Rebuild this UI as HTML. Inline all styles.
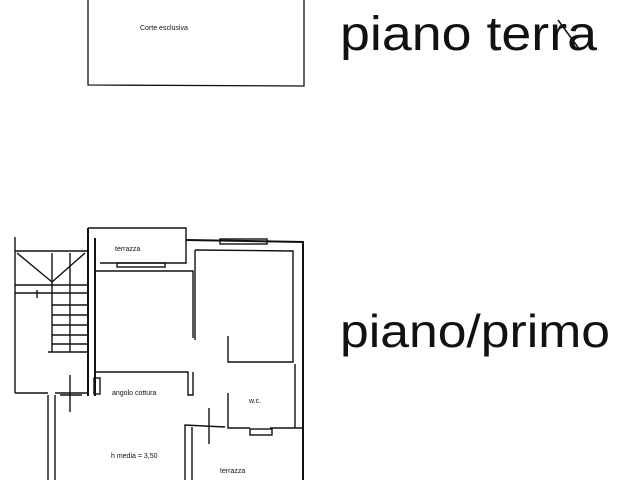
<!DOCTYPE html>
<html><head><style>body{margin:0;background:#fff}svg{display:block}</style></head><body>
<svg width="640" height="480" viewBox="0 0 640 480" xmlns="http://www.w3.org/2000/svg" font-family="Liberation Sans, sans-serif">
<rect width="640" height="480" fill="#fff"/>
<g stroke="#111" fill="none" stroke-width="1.3">
<polyline points="88,0 88,85 304,86 304,0"/>
</g>
<text x="140" y="30" font-size="7" fill="#111">Corte esclusiva</text>
<text x="340" y="50" font-size="48" fill="#111" textLength="257" lengthAdjust="spacingAndGlyphs">piano terra</text>
<line x1="558" y1="20" x2="580" y2="50" stroke="#111" stroke-width="1.5"/>
<text x="340" y="347" font-size="46" fill="#111" textLength="270" lengthAdjust="spacingAndGlyphs">piano/primo</text>
<g stroke="#111" fill="none" stroke-width="1.4">
<line x1="15" y1="237" x2="15" y2="393"/>
<polyline points="15,251 87,251"/>
<polyline points="15,393 48,393"/>
<polyline points="55,393 88,393"/>
<line x1="17" y1="253" x2="52" y2="282"/><line x1="52" y1="282" x2="85" y2="253"/>
<line x1="52" y1="253" x2="52" y2="352"/>
<line x1="70" y1="253" x2="70" y2="352"/>
<line x1="15" y1="285" x2="87" y2="285"/>
<line x1="15" y1="293" x2="87" y2="293"/>
<line x1="52" y1="305" x2="87" y2="305"/>
<line x1="52" y1="315" x2="87" y2="315"/>
<line x1="52" y1="325" x2="87" y2="325"/>
<line x1="52" y1="335" x2="87" y2="335"/>
<line x1="52" y1="344" x2="87" y2="344"/>
<polyline points="48,352 87,352"/>
<line x1="37" y1="290" x2="37" y2="298"/>
<polyline points="88,228 186,228 186,263 100,263"/>
<line x1="88" y1="228" x2="88" y2="396" stroke-width="2"/>
<line x1="95" y1="238" x2="95" y2="396" stroke-width="2"/>
<rect x="117" y="263" width="48" height="4"/>
<polyline points="186,240 303,242 303,480" stroke-width="2"/>
<rect x="220" y="239" width="47" height="5"/>
<polyline points="195,250 293,251 293,362 228,362 228,336"/>
<line x1="195" y1="250" x2="195" y2="340"/>
<polyline points="95,271 193,271 193,338"/>
<polyline points="95,372 188,372 188,395 193,395 193,372"/>
<rect x="94" y="378" width="6" height="16"/>
<polyline points="228,393 228,428 250,428"/>
<polyline points="270,428 303,428"/>
<polyline points="295,364 295,428"/>
<rect x="250" y="429" width="22" height="6"/>
<polyline points="185,480 185,425 225,427"/>
<line x1="192" y1="427" x2="192" y2="480"/>
<line x1="48" y1="395" x2="48" y2="480"/>
<line x1="55" y1="395" x2="55" y2="480"/>
<line x1="70" y1="375" x2="70" y2="412"/>
<line x1="60" y1="395" x2="82" y2="395"/>
<line x1="209" y1="408" x2="209" y2="444"/>
</g>
<text x="115" y="251" font-size="7" fill="#111">terrazza</text>
<text x="112" y="395" font-size="7" fill="#111">angolo cottura</text>
<text x="249" y="403" font-size="7" fill="#111">w.c.</text>
<text x="111" y="458" font-size="7" fill="#111">h media = 3,50</text>
<text x="220" y="473" font-size="7" fill="#111">terrazza</text>
</svg>
</body></html>
